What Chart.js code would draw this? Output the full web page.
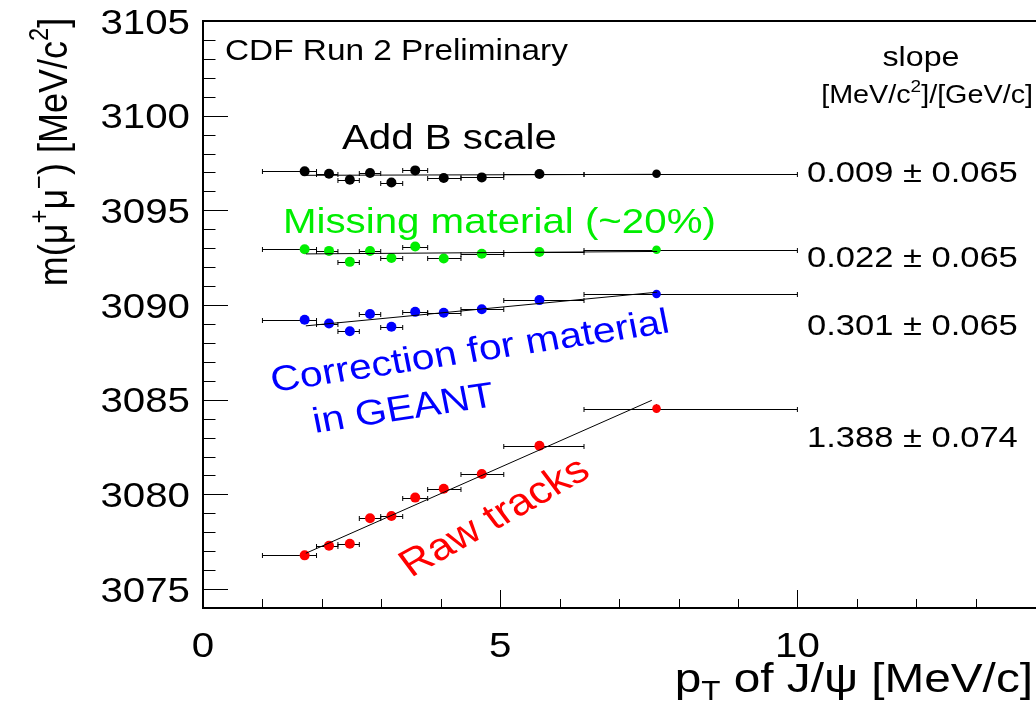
<!DOCTYPE html>
<html>
<head>
<meta charset="utf-8">
<script src="https://cdn.jsdelivr.net/npm/chart.js@4.4.1/dist/chart.umd.min.js"></script>
<style>
html, body { margin: 0; padding: 0; background: #fff; }
</style>
</head>
<body>
<canvas id="massChart" width="1036" height="714"></canvas>
<script>
// pT bins of J/psi (GeV/c) and mean pT in each bin
let binLow  = [1.0, 1.91, 2.27, 2.63, 2.99, 3.36, 3.78, 4.34, 5.06, 6.41]
let binHigh = [1.91, 2.27, 2.63, 2.99, 3.36, 3.78, 4.34, 5.06, 6.41, 10.0]
let ptMean  = [1.71, 2.12, 2.47, 2.81, 3.17, 3.57, 4.05, 4.69, 5.66, 7.63]

// fitted mass in each bin, MeV/c^2
let bScaleY   = [3097.06, 3096.93, 3096.62, 3096.97, 3096.47, 3097.11, 3096.71, 3096.74, 3096.92, 3096.93]
let missingY  = [3092.95, 3092.86, 3092.28, 3092.85, 3092.48, 3093.09, 3092.46, 3092.71, 3092.80, 3092.92]
let geantY    = [3089.22, 3089.02, 3088.62, 3089.53, 3088.85, 3089.64, 3089.59, 3089.78, 3090.26, 3090.58]
let rawY      = [3076.78, 3077.29, 3077.39, 3078.74, 3078.86, 3079.83, 3080.30, 3081.08, 3082.57, 3084.53]

let bScaleErr  = [0.08, 0.08, 0.08, 0.08, 0.08, 0.08, 0.08, 0.08, 0.08, 0.10]
let missingErr = [0.08, 0.08, 0.08, 0.08, 0.08, 0.08, 0.08, 0.08, 0.08, 0.10]
let geantErr   = [0.08, 0.08, 0.08, 0.08, 0.08, 0.08, 0.08, 0.08, 0.08, 0.10]
let rawErr     = [0.10, 0.12, 0.12, 0.15, 0.15, 0.12, 0.12, 0.15, 0.15, 0.18]

// straight line fits: value at fitStart, slope, slope error
let fitStart = 1.73
let fitEnd   = [7.66, 7.64, 7.64, 7.55]
let fitY0    = [3096.85, 3092.70, 3088.90, 3076.89]
let slopes   = [0.009, 0.022, 0.301, 1.388]
let slopeErr = [0.065, 0.065, 0.065, 0.074]

let xTicks = [0, 5, 10]
let yTicks = [3075, 3080, 3085, 3090, 3095, 3100, 3105]

let seriesY   = [bScaleY, missingY, geantY, rawY]
let seriesErr = [bScaleErr, missingErr, geantErr, rawErr]
let colors    = ['#000000', 'rgb(0,238,0)', '#0000ff', '#ff0000']

const FONT = '"Liberation Sans", Arial, Helvetica, sans-serif'
const SX = 1.15   // picture is a little wider than tall

// draw text made of pieces: [text, ''|'sup'|'sub']
function drawRich(ctx, parts, x, y, size, align, color, angle) {
    ctx.save()
    ctx.translate(x, y)
    ctx.scale(SX, 1)
    ctx.rotate(angle || 0)
    ctx.fillStyle = color
    ctx.textBaseline = 'alphabetic'
    ctx.textAlign = 'left'
    let w = 0
    let sizes = parts.map(p => p[1] ? size * 0.66 : size)
    parts.forEach((p, i) => {
        ctx.font = sizes[i] + 'px ' + FONT
        w += ctx.measureText(p[0]).width
    })
    let cx = align == 'right' ? -w : (align == 'center' ? -w / 2 : 0)
    parts.forEach((p, i) => {
        ctx.font = sizes[i] + 'px ' + FONT
        let dy = p[1] == 'sup' ? -size * 0.45 : (p[1] == 'sub' ? size * 0.2 : 0)
        ctx.fillText(p[0], cx, dy)
        cx += ctx.measureText(p[0]).width
    })
    ctx.restore()
}

const errorBars = {
    id: 'errorBars',
    beforeDatasetsDraw(chart) {
        let ctx = chart.ctx, xs = chart.scales.x, ys = chart.scales.y
        ctx.save()
        ctx.strokeStyle = '#000'
        ctx.lineWidth = 1
        seriesY.forEach((vals, s) => {
            vals.forEach((v, j) => {
                let py = Math.round(ys.getPixelForValue(v)) + 0.5
                let x1 = xs.getPixelForValue(binLow[j]), x2 = xs.getPixelForValue(binHigh[j])
                let px = xs.getPixelForValue(ptMean[j])
                let ya = ys.getPixelForValue(v + seriesErr[s][j]), yb = ys.getPixelForValue(v - seriesErr[s][j])
                ctx.beginPath()
                ctx.moveTo(x1, py); ctx.lineTo(x2, py)
                ctx.moveTo(x1, py - 2.5); ctx.lineTo(x1, py + 2.5)
                ctx.moveTo(x2, py - 2.5); ctx.lineTo(x2, py + 2.5)
                ctx.moveTo(px, ya - 1); ctx.lineTo(px, yb + 1)
                ctx.stroke()
            })
        })
        ctx.restore()
    }
}

const frameAndText = {
    id: 'frameAndText',
    afterDraw(chart) {
        let ctx = chart.ctx, xs = chart.scales.x, ys = chart.scales.y
        let a = chart.chartArea
        ctx.save()
        ctx.strokeStyle = '#000'
        // frame
        ctx.lineWidth = 2
        ctx.beginPath()
        ctx.moveTo(a.right + 5, a.top); ctx.lineTo(a.left, a.top)
        ctx.lineTo(a.left, a.bottom); ctx.lineTo(a.right + 5, a.bottom)
        ctx.stroke()
        // ticks pointing into the frame
        ctx.lineWidth = 1
        ctx.beginPath()
        for (let v = Math.ceil(ys.min); v <= ys.max; v++) {
            let y = Math.round(ys.getPixelForValue(v)) + 0.5
            let len = yTicks.includes(v) ? 25 : 12.5
            ctx.moveTo(a.left, y); ctx.lineTo(a.left + len, y)
        }
        for (let v = 0; v <= xs.max; v++) {
            let x = Math.round(xs.getPixelForValue(v)) + 0.5
            let len = xTicks.includes(v) ? 18 : 9
            ctx.moveTo(x, a.bottom); ctx.lineTo(x, a.bottom - len)
        }
        ctx.stroke()
        ctx.restore()

        // tick labels
        yTicks.forEach(v => {
            drawRich(ctx, [[String(v), '']], 190, ys.getPixelForValue(v) + 12.5, 35, 'right', '#000')
        })
        xTicks.forEach(v => {
            drawRich(ctx, [[String(v), '']], xs.getPixelForValue(v), 657, 35, 'center', '#000')
        })

        // axis titles
        drawRich(ctx, [['p', ''], ['T', 'sub'], [' of J/\u03c8 [MeV/c]', '']], 1033, 692, 41.5, 'right', '#000')
        drawRich(ctx, [['m(\u03bc', ''], ['+', 'sup'], ['\u03bc', ''], ['\u2212', 'sup'], [') [MeV/c', ''], ['2', 'sup'], [']', '']],
                 67, 152, 36, 'center', '#000', -Math.PI / 2)

        // annotations
        drawRich(ctx, [['CDF Run 2 Preliminary', '']], 225, 60, 29, 'left', '#000')
        drawRich(ctx, [['Add B scale', '']], 342, 149, 35, 'left', colors[0])
        drawRich(ctx, [['Missing material (~20%)', '']], 283, 233, 35, 'left', colors[1])
        drawRich(ctx, [['Correction for material', '']], 273, 392, 35.5, 'left', colors[2], -9.8 * Math.PI / 180)
        drawRich(ctx, [['in GEANT', '']], 315, 433, 35.5, 'left', colors[2], -9.8 * Math.PI / 180)
        drawRich(ctx, [['Raw tracks', '']], 411, 578, 38, 'left', colors[3], -33 * Math.PI / 180)

        // slope column
        drawRich(ctx, [['slope', '']], 921, 66, 28, 'center', '#000')
        drawRich(ctx, [['[MeV/c', ''], ['2', 'sup'], [']/[GeV/c]', '']], 1033, 103, 25, 'right', '#000')
        let slopeBase = [182, 267, 335, 447]
        slopes.forEach((s, i) => {
            drawRich(ctx, [[s.toFixed(3) + ' \u00b1 ' + slopeErr[i].toFixed(3), '']], 807, slopeBase[i], 30, 'left', '#000')
        })
    }
}

let datasets = []
seriesY.forEach((vals, i) => {
    datasets.push({
        type: 'scatter',
        data: vals.map((v, j) => ({ x: ptMean[j], y: v })),
        backgroundColor: colors[i],
        borderColor: colors[i],
        borderWidth: 0,
        pointRadius: vals.map((v, j) => j == vals.length - 1 ? 4.3 : 5),
        order: 2
    })
    datasets.push({
        type: 'line',
        data: [{ x: fitStart, y: fitY0[i] },
               { x: fitEnd[i], y: fitY0[i] + slopes[i] * (fitEnd[i] - fitStart) }],
        borderColor: '#000',
        borderWidth: 1,
        pointRadius: 0,
        fill: false,
        order: 1
    })
})

new Chart(document.getElementById('massChart'), {
    data: { datasets: datasets },
    options: {
        responsive: false,
        animation: false,
        devicePixelRatio: 1,
        layout: { padding: { left: 203, top: 21, right: 0, bottom: 106 } },
        plugins: { legend: { display: false }, tooltip: { enabled: false } },
        scales: {
            x: { type: 'linear', min: 0, max: 13.93, display: false },
            y: { type: 'linear', min: 3074, max: 3105, display: false }
        }
    },
    plugins: [errorBars, frameAndText]
})
</script>
</body>
</html>
